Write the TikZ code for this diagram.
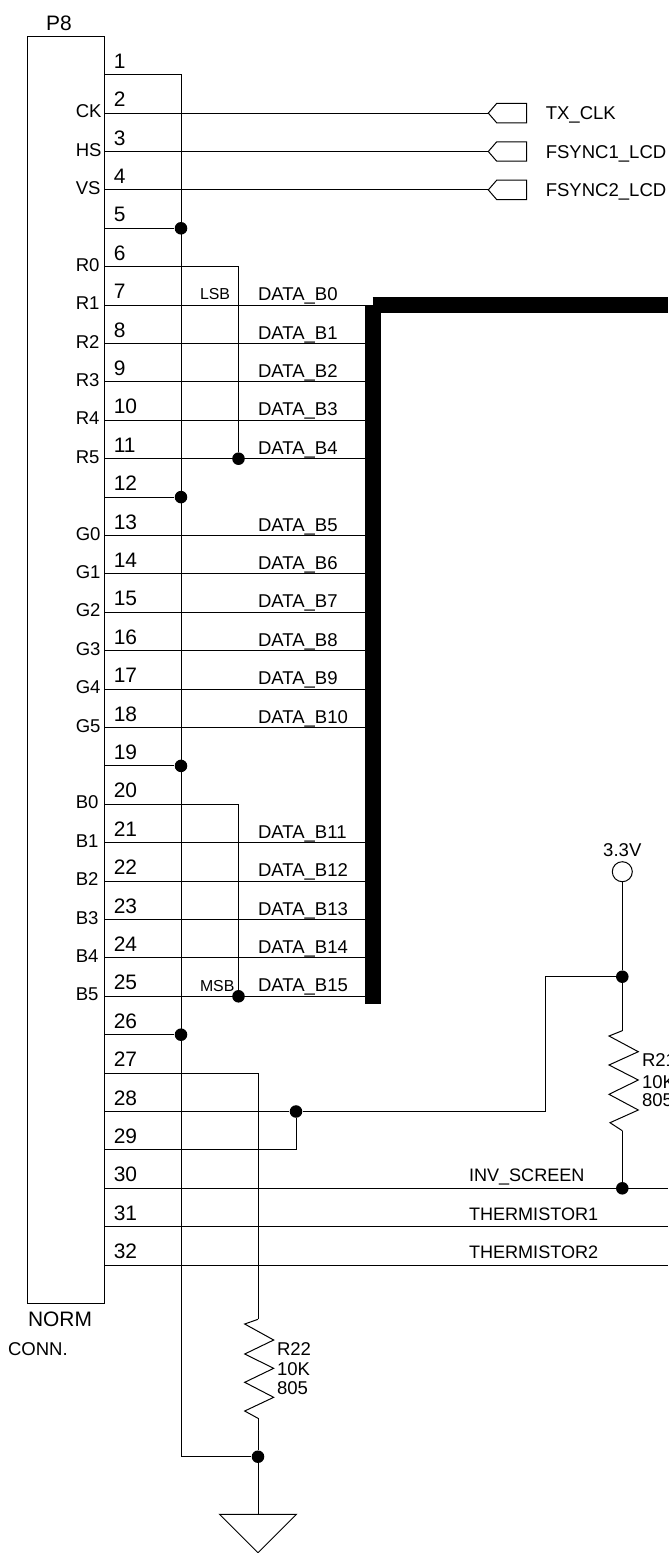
\documentclass[tikz,border=0pt]{standalone}
\usepackage{fontspec}
\setmainfont{Liberation Sans}

\begin{document}
\begin{tikzpicture}[x=0.75pt,y=-0.75pt,line width=0.75pt,
	lab/.style={anchor=west,inner sep=0pt,text height=9.9pt,text depth=0pt,font=\fontsize{13.9}{15}\selectfont},
	numlab/.style={lab,text height=11pt,font=\fontsize{15.7}{17}\selectfont},
	small/.style={lab,text height=8.5pt,font=\fontsize{11.9}{13}\selectfont},
	bus/.style={line width=12pt},
	jct/.style={circle,fill=black,inner sep=0pt,minimum size=9.4pt}]

	\useasboundingbox (0,0) rectangle (668,1553);

	% Columns
	\coordinate (gndx) at (181,0);
	\coordinate (tapx) at (238.5,0);
	\coordinate (r22x) at (258,0);
	\coordinate (tiex) at (296,0);
	\coordinate (upx) at (545.7,0);
	\coordinate (r21x) at (622.3,0);
	\coordinate (busx) at (373,0);
	\coordinate (portx) at (488.3,0);
	\coordinate (edgex) at (668,0);

	% Connector
	\draw (27.5,36) rectangle (104.5,1303);
	\node [numlab,anchor=center] (p8) at (59,22.7) { P8 };
	\node [numlab,anchor=center] (norm) at (60,1319) { NORM };
	\node [lab] (conn) at (7.5,1349) { CONN. };

	\foreach \n in {1,...,32} {
		\coordinate (pin\n) at (104.5,{74.7+38.4*(\n-1)});
		\node [numlab] (num\n) at (113.3,{61+38.4*(\n-1)}) { \n };
	}

	\foreach \n/\t in {2/CK,3/HS,4/VS,6/R0,7/R1,8/R2,9/R3,10/R4,11/R5,13/G0,14/G1,15/G2,16/G3,17/G4,18/G5,20/B0,21/B1,22/B2,23/B3,24/B4,25/B5}
		\node [lab] (name\n) at (75.3,{72.7+38.4*(\n-1)}) { \t };

	% Ground rail
	\coordinate (gndtop) at (pin1 -| gndx);
	\node [jct] (j22) at (258,1456.7) {};
	\draw (pin1) -- (gndtop) -- (gndtop |- j22) -- (j22);
	\foreach \n in {5,12,19,26} {
		\node [jct] (j\n) at (pin\n -| gndx) {};
		\draw (pin\n) -- (j\n);
	}

	% Sync outputs
	\foreach \n/\t in {2/TX\_CLK,3/FSYNC1\_LCD,4/FSYNC2\_LCD} {
		\coordinate (tip\n) at (pin\n -| portx);
		\draw (pin\n) -- (tip\n);
		\draw (tip\n) -- ++(8.4,-9.7) -- ++(30,0) -- ++(0,19.4) -- ++(-30,0) -- cycle;
		\node [lab] (port\n) at (545.3,{74.7+38.4*(\n-1)}) { \t };
	}

	% Data lines
	\foreach \n/\b in {7/0,8/1,9/2,10/3,11/4,13/5,14/6,15/7,16/8,17/9,18/10,21/11,22/12,23/13,24/14,25/15} {
		\draw (pin\n) -- (pin\n -| busx);
		\node [lab] (data\b) at (257.5,{63.7+38.4*(\n-1)}) { DATA\_B\b };
	}
	\draw [bus] (372.5,305) -- (668,305);
	\draw [bus] (373,304.5) -- (373,1004);
	\node [small] (lsb) at (199.5,294) { LSB };
	\node [small] (msb) at (199.5,986) { MSB };

	% Tied low bits
	\node [jct] (j11) at (pin11 -| tapx) {};
	\node [jct] (j25) at (pin25 -| tapx) {};
	\draw (pin6) -- (pin6 -| tapx) -- (j11);
	\draw (pin20) -- (pin20 -| tapx) -- (j25);

	% Pins 28 and 29
	\node [jct] (j28) at (pin28 -| tiex) {};
	\node [jct] (j33) at (622.3,976.7) {};
	\draw (pin28) -- (j28) -- (pin28 -| upx) -- (upx |- j33) -- (j33);
	\draw (pin29) -- (pin29 -| tiex) -- (j28);

	% 3.3V and R21
	\node [draw,circle,inner sep=0pt,minimum size=15pt] (vcc) at (622.3,871.7) {};
	\node [lab,anchor=center] (vcclab) at (622.3,850) { 3.3V };
	\node [jct] (j30) at (pin30 -| r21x) {};
	\coordinate (r21top) at (622.3,1030.7);
	\coordinate (r21bot) at (622.3,1130.7);
	\draw (vcc) -- (j33) -- (r21top);
	\draw (r21top) -- ++(-13.3,5.3) -- ++(29.3,15.7) -- ++(-29.3,13.3) -- ++(29.3,15) -- ++(-29.3,14.3) -- ++(29.3,15.7) -- ++(-28.3,12.7) -- (r21bot);
	\draw (r21bot) -- (j30);
	\node [lab] (r21a) at (641.5,1060) { R21 };
	\node [lab] (r21b) at (641.5,1081.7) { 10K };
	\node [lab] (r21c) at (641.5,1100) { 805 };

	% Lines leaving right
	\foreach \n/\t in {30/INV\_SCREEN,31/THERMISTOR1,32/THERMISTOR2} {
		\draw (pin\n) -- (pin\n -| edgex);
		\node [lab,font=\fontsize{13.55}{15}\selectfont] (sig\n) at (468.5,{61.7+38.4*(\n-1)}) { \t };
	}

	% R22 and ground
	\coordinate (r22top) at (258,1319.3);
	\coordinate (r22bot) at (258,1418.3);
	\coordinate (gndsym) at (258,1514.3);
	\draw (pin27) -- (pin27 -| r22x) -- (r22top);
	\draw (r22top) -- ++(-13.3,4.7) -- ++(29,16) -- ++(-29,14) -- ++(29,14.3) -- ++(-29,14) -- ++(29,15) -- ++(-29,13.7) -- (r22bot);
	\draw (r22bot) -- (j22);
	\draw (j22) -- (gndsym);
	\draw (gndsym) -- ++(38.4,0) -- (258,1552.7) -- (219.6,1514.3) -- cycle;
	\node [lab] (r22a) at (276.5,1349) { R22 };
	\node [lab] (r22b) at (276.5,1369) { 10K };
	\node [lab] (r22c) at (276.5,1388) { 805 };

\end{tikzpicture}
\end{document}
